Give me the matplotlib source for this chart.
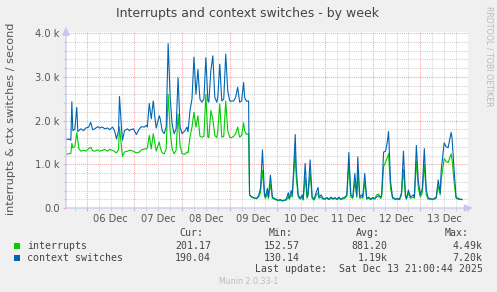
import matplotlib
matplotlib.use('Agg')
import matplotlib.pyplot as plt
from matplotlib.patches import Rectangle

# ---------------- data ----------------
# time in hours since 2025-12-05 00:00
hours = [13.5, 15, 16, 16.5, 17, 18, 19, 19.5, 20, 21, 22.5, 23.5, 25, 26, 27, 28, 29.5, 30.5,
         32, 33, 34.5, 35.5, 37, 38, 39, 40, 40.5, 41.5, 42, 43, 44.5, 45.5,
         46, 47.5, 49, 50.5, 51.5, 53, 54, 54.5, 55.5, 56.5, 57.5, 58.5, 59, 60.5, 61, 62, 63,
         64, 65, 66, 67, 68, 69, 70, 71, 72, 73.5, 74.5, 75, 76, 77, 78, 79, 80, 81,
         82, 83, 84, 85, 85.5, 86.5, 87.5, 88.5, 89.5, 90, 91, 92, 93, 94, 95, 96, 97, 98, 99,
         100, 101, 102, 103, 103.5, 104.5, 105.5, 106, 107, 108, 109.5, 110.5, 111.5, 112.5, 113.5,
         114, 115, 115.5, 116.5, 117.5, 118.5, 119.5, 120.5, 121.5, 122.5, 123.5, 124.5, 125.5,
         126, 127, 127.5, 128, 129, 129.5, 130.5, 131.5, 132.5, 133, 134, 135, 135.5, 136.5,
         137.5, 138.5, 139.5, 140.5, 141, 142, 143, 144, 145, 146, 147, 148, 149, 150, 151, 152,
         153, 154, 155, 156, 157, 158, 159, 160, 160.5, 161.5, 162.5, 163, 164, 165, 166, 167,
         168, 169, 170, 171, 172, 172.5, 173.5, 174.5, 175.5, 176, 177, 178, 179, 179.5, 180.5,
         181.5, 182.5, 183.5, 184.5, 185, 186, 187, 188.5, 189, 190, 191, 192, 192.5, 193, 194,
         195, 196, 197, 198, 199, 200, 201, 202, 202.5, 204, 205, 206, 207.5, 208, 209, 210, 211,
         212, 213]

# context switches per second
ctx = [1560, 1580, 1550, 2430, 1770, 1800, 2300, 1750, 1770, 1810, 1770, 1830, 1850, 1960, 1790,
       1810, 1860, 1830, 1850, 1810, 1830, 1790, 1850, 1770, 1580, 1770, 2550, 1830, 1550, 1770,
       1810, 1770,
       1790, 1810, 1680, 1810, 1860, 1850, 1890, 1850, 2390, 2040, 2450, 2000, 1830, 2110, 2040,
       1770, 1700, 1850, 3760, 2530, 1920, 1700, 1810, 2980, 1850, 1700, 1770, 1850, 1740, 2230,
       2490, 3450, 2600, 3170, 2490,
       2420, 2490, 3440, 2450, 2420, 3140, 3480, 2530, 2420, 2530, 3290, 2450, 2490, 3520, 2680,
       2450, 2440, 2450, 2530, 2760, 2420, 2450, 2870, 2530, 2440, 2450, 300, 260, 240, 220, 280,
       450, 1330, 330,
       250, 450, 250, 750, 250, 220, 200, 180, 190, 170, 180, 200, 350,
       220, 400, 300, 700, 1680, 900, 300, 220, 300, 200, 1020, 250, 350, 1100,
       250, 200, 350, 470, 250, 300, 220, 210, 240, 200, 250, 210, 240, 200, 250, 200,
       230, 250, 300, 1270, 300, 250, 790, 280, 1170, 250, 300, 250, 790, 220, 250, 200,
       240, 220, 250, 280, 240, 300, 1280, 1300, 1550, 1750, 600, 250, 220, 200, 220,
       200, 350, 1300, 300, 220, 410, 250, 300, 250, 1430, 600, 300, 380, 450, 1360,
       400, 220, 220, 200, 220, 250, 640, 350, 860, 1490, 1400, 1380, 1730, 1590, 860, 250, 220,
       200, 190]

# interrupts per second
intr = [1230, 1240, 1250, 1480, 1380, 1400, 1720, 1550, 1360, 1300, 1320, 1300, 1360, 1390, 1310,
        1300, 1330, 1300, 1320, 1340, 1300, 1340, 1320, 1290, 1260, 1340, 1850, 1390, 1180, 1280,
        1300, 1320,
        1320, 1300, 1260, 1280, 1330, 1350, 1350, 1370, 1660, 1350, 1700, 1430, 1300, 1510, 1390,
        1260, 1240, 1350, 2600, 1770, 1350, 1240, 1320, 2150, 1430, 1240, 1230, 1280, 1260, 1620,
        1850, 2190, 1850, 2110, 1640,
        1620, 1640, 2600, 1620, 1610, 2230, 2040, 1660, 1610, 1770, 2380, 1620, 1640, 2450, 1770,
        1620, 1610, 1640, 1700, 1850, 1620, 1660, 1950, 1770, 1680, 1700, 290, 250, 230, 210, 250,
        350, 860, 280,
        220, 350, 220, 550, 220, 200, 180, 170, 180, 160, 170, 180, 250,
        200, 300, 250, 600, 1280, 700, 250, 200, 250, 180, 700, 220, 300, 800,
        220, 180, 280, 350, 220, 250, 200, 200, 220, 190, 220, 200, 220, 190, 220, 190,
        210, 220, 280, 1020, 250, 220, 600, 240, 850, 220, 250, 220, 600, 200, 220, 190,
        220, 200, 300, 320, 220, 250, 950, 1050, 1170, 1240, 450, 220, 200, 190, 200,
        190, 300, 880, 250, 200, 350, 220, 250, 220, 1070, 450, 250, 300, 350, 1000,
        300, 200, 200, 190, 200, 220, 500, 300, 650, 1130, 1060, 1040, 1240, 1100, 600, 220, 200,
        200, 200]

series_names = ['interrupts', 'context switches']
series_colors = ['#00CC00', '#0066B3']
cur_vals = ['201.17', '190.04']
min_vals = ['152.57', '130.14']
avg_vals = ['881.20', '1.19k']
max_vals = ['4.49k', '7.20k']

day_labels = ['06 Dec', '07 Dec', '08 Dec', '09 Dec', '10 Dec', '11 Dec', '12 Dec', '13 Dec']
y_ticks = [0, 1000, 2000, 3000, 4000]
y_labels = ['0.0', '1.0 k', '2.0 k', '3.0 k', '4.0 k']

title = 'Interrupts and context switches - by week'
ylabel = 'interrupts & ctx switches / second'
last_update = 'Last update:  Sat Dec 13 21:00:44 2025'

# ---------------- layout helpers ----------------
W, H = 497, 292
BG = '#F0F0F0'


def fx(x):
    return x / W


def fy(y):
    return 1 - y / H


fig = plt.figure(figsize=(W / 100, H / 100), dpi=100, facecolor=BG)
ax = fig.add_axes([fx(66), fy(208), (468 - 66) / W, (208 - 32) / H])
ax.set_facecolor('white')

ax.plot(hours, intr, color=series_colors[0], lw=0.8, solid_joinstyle='round', zorder=3)
ax.plot(hours, ctx, color=series_colors[1], lw=0.8, solid_joinstyle='round', zorder=4)

ax.set_xlim(13.56, 213.4)
ax.set_ylim(0, 4025)

# ticks
day_starts = [24 * (i + 1) for i in range(len(day_labels) + 1)]
six_h = [h for h in range(18, 214, 6) if h % 24 != 0]
noon_labels = [day_labels[(h - 36) // 24] if (h % 24 == 12 and 36 <= h <= 204) else '' for h in six_h]

ax.set_xticks(day_starts)
ax.set_xticklabels([''] * len(day_starts))
ax.set_xticks(six_h, minor=True)
ax.set_xticklabels(noon_labels, minor=True)

ax.set_yticks(y_ticks)
ax.set_yticklabels(y_labels)
ax.set_yticks([v for v in range(200, 4000, 200) if v % 1000 != 0], minor=True)

major_col = '#F2A6A6'
minor_col = '#D2D2D2'
ax.tick_params(axis='both', which='major', length=2, width=0.8, color=major_col,
               labelsize=7.1, labelcolor='#555555', pad=2.5)
ax.tick_params(axis='both', which='minor', length=2, width=0.8, color=minor_col,
               labelsize=7.1, labelcolor='#555555', pad=2.5)

ax.grid(which='major', color=major_col, linestyle=(0, (1, 1)), lw=0.75)
ax.grid(which='minor', color=minor_col, linestyle=(0, (1, 1)), lw=0.75)
ax.set_axisbelow(True)

for s in ax.spines.values():
    s.set_visible(False)

axis_col = '#C6C6EE'
ax.annotate('', xy=(1.012, 0), xytext=(0, 0), xycoords='axes fraction',
            arrowprops=dict(arrowstyle='-|>,head_length=0.5,head_width=0.22', color=axis_col,
                            lw=0.9, shrinkA=0, shrinkB=0), annotation_clip=False, zorder=5)
ax.annotate('', xy=(0, 1.03), xytext=(0, 0), xycoords='axes fraction',
            arrowprops=dict(arrowstyle='-|>,head_length=0.5,head_width=0.22', color=axis_col,
                            lw=0.9, shrinkA=0, shrinkB=0), annotation_clip=False, zorder=5)

# texts
fig.text(fx(248), fy(13), title, ha='center', va='center', fontsize=9, color='#444444')
fig.text(fx(11), fy(119), ylabel, ha='center', va='center', rotation=90, fontsize=8.1,
         color='#555555')
fig.text(fx(488.5), fy(56.5), 'RRDTOOL / TOBI OETIKER', ha='center', va='center',
         rotation=270, fontsize=5.7, color='#BBBBBB')

mono = 'DejaVu Sans Mono'
ms = 7.15
tc = '#444444'
hdr_y = 233.3
for label, xr in zip(['Cur:', 'Min:', 'Avg:', 'Max:'], [203.3, 292.3, 380, 469]):
    fig.text(fx(xr), fy(hdr_y), label, ha='right', va='center', family=mono, fontsize=ms, color=tc)

rows_y = [245.7, 257.7]
for i, name in enumerate(series_names):
    y = rows_y[i]
    fig.patches.append(Rectangle((fx(14), fy(y + 3)), 6 / W, 6 / H, transform=fig.transFigure,
                                 facecolor=series_colors[i], edgecolor='none'))
    fig.text(fx(26.7), fy(y), name, ha='left', va='center', family=mono, fontsize=ms, color=tc)
    for val, xr in zip([cur_vals[i], min_vals[i], avg_vals[i], max_vals[i]],
                       [211, 300, 387.7, 482.7]):
        fig.text(fx(xr), fy(y), val, ha='right', va='center', family=mono, fontsize=ms, color=tc)

fig.text(fx(482.7), fy(269.3), last_update, ha='right', va='center', family=mono,
         fontsize=ms, color=tc)
fig.text(fx(248.3), fy(281), 'Munin 2.0.33-1', ha='center', va='center', fontsize=5.7,
         color='#BBBBBB')

fig.savefig('out.png', dpi=100, facecolor=BG)
